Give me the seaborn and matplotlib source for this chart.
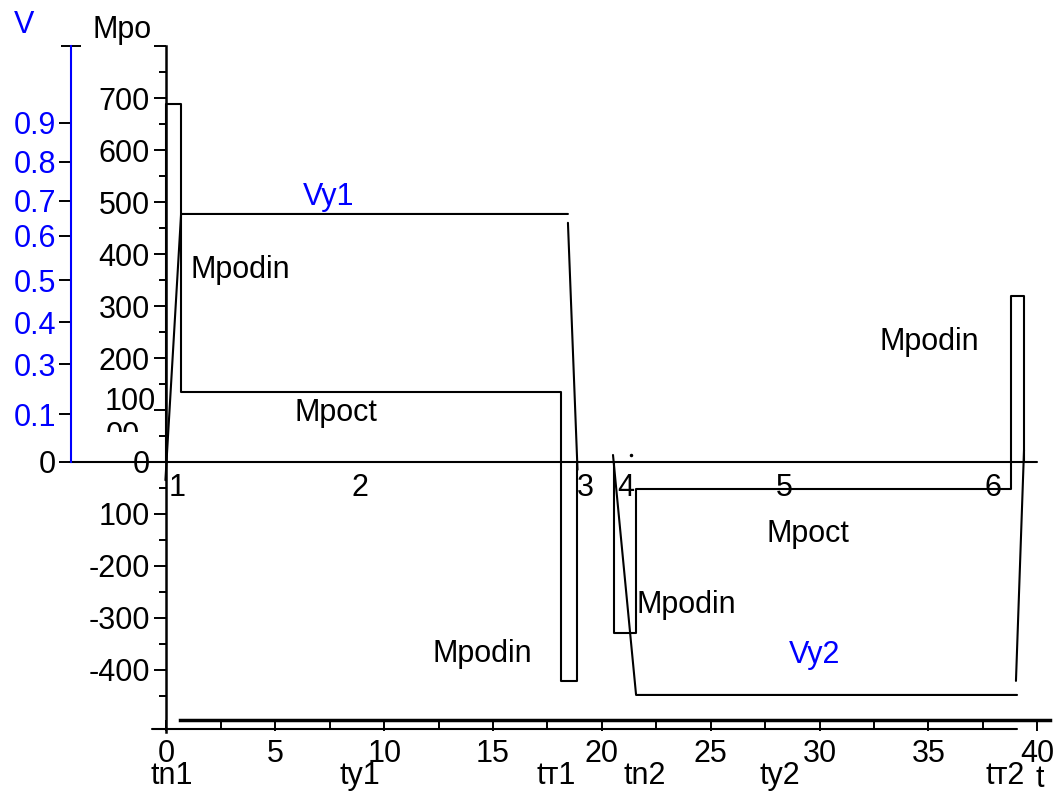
import numpy as np
import pandas as pd
import matplotlib
matplotlib.use('Agg')
import matplotlib.pyplot as plt
import seaborn as sns
from matplotlib.patches import Rectangle

sns.set_theme(style='white')
plt.rcParams['font.family'] = ['Liberation Sans', 'DejaVu Sans']
plt.rcParams['text.color'] = 'black'
plt.rcParams['xtick.color'] = 'black'
plt.rcParams['ytick.color'] = 'black'

# torque diagram, forward run (t, Mpo)
m1_t = [0, 0, 0.65, 0.65, 18.12, 18.12, 18.86, 18.86]
m1_M = [0, 688, 688, 135, 135, -421, -421, 0]
# torque diagram, reverse run
m2_t = [20.56, 20.56, 21.57, 21.57, 38.79, 38.79, 39.39, 39.39]
m2_M = [0, -329, -329, -52, -52, 319, 319, 0]
# speed Vy1 (drawn in Mpo units)
v1_t = [-0.05, 0.67, 18.44]
v1_M = [-35, 477, 477]
v1d_t = [18.44, 18.88]
v1d_M = [460, -15]
# speed Vy2
v2_t = [20.51, 21.57, 39.07]
v2_M = [13.5, -448, -448]
v2u_t = [39.02, 39.39]
v2u_M = [-421, 23]
# bottom base line
base_t = [-0.67, 39.07]
base_M = [-513, -513]

# axis ticks
x_ticks = [0, 5, 10, 15, 20, 25, 30, 35, 40]
m_ticks = [-400, -300, -200, -100, 0, 100, 200, 300, 400, 500, 600, 700, 800]
m_labels = ['-400', '-300', '-200', '100', '0', '', '200', '300', '400', '500', '600', '700', '']
v_pos = [0, 92, 188, 269, 350, 435, 502, 577, 652]
v_labels = ['0', '0.1', '0.3', '0.4', '0.5', '0.6', '0.7', '0.8', '0.9']

t_names = ['tn1', 'ty1', 'tт1', 'tn2', 'ty2', 'tт2']
t_name_pos = [0.25, 8.89, 17.9, 21.98, 28.18, 38.5]
seg_nums = ['1', '2', '3', '4', '5', '6']
seg_num_t = [0.48, 8.89, 19.22, 21.11, 28.36, 37.97]

segs = [(m1_t, m1_M), (m2_t, m2_M), (v1_t, v1_M), (v1d_t, v1d_M),
        (v2_t, v2_M), (v2u_t, v2u_M), (base_t, base_M)]
rows = []
for i, (tt, mm) in enumerate(segs):
    for k in range(len(tt)):
        rows.append({'seg': i, 'order': k, 't': tt[k], 'M': mm[k]})
df = pd.DataFrame(rows)

W, H = 1059, 794
fig = plt.figure(figsize=(W / 100, H / 100), dpi=100)
ax = fig.add_axes([0, 0, 1, 1])
ax.set_xlim(-7.648, 40.997)
ax.set_ylim(-638.5, 888.5)
ax.patch.set_alpha(0)

sns.lineplot(data=df, x='t', y='M', units='seg', estimator=None, sort=False,
             color='black', linewidth=1.5, ax=ax, legend=False)
ax.plot([21.34], [13.5], 'o', color='black', ms=1.5)

FS = 22
# zero line
ax.plot([-4.43, 40], [0, 0], color='black', lw=1.5)

# Mpo axis
for s in ['top', 'right']:
    ax.spines[s].set_visible(False)
ax.spines['left'].set_position(('data', 0))
ax.spines['left'].set_bounds(-520, 800)
ax.spines['left'].set_linewidth(1.8)
ax.spines['left'].set_color('black')
ax.spines['bottom'].set_position(('data', -496))
ax.spines['bottom'].set_bounds(0.6, 40.6)
ax.spines['bottom'].set_linewidth(2.5)
ax.spines['bottom'].set_color('black')
ax.set_yticks(m_ticks)
ax.set_yticklabels(m_labels)
ax.set_yticks(np.arange(-450, 800, 100), minor=True)
ax.set_xticks(x_ticks)
ax.set_xticklabels([str(v) for v in x_ticks])
ax.set_xticks(np.arange(2.5, 40, 5), minor=True)
ax.tick_params(axis='both', which='both', bottom=True, left=True, top=False, right=False)
ax.tick_params(axis='y', which='major', direction='out', length=8.6, width=1.4,
               pad=3.5, labelsize=FS, colors='black')
ax.tick_params(axis='y', which='minor', direction='out', length=4.7, width=1.4)
ax.tick_params(axis='x', which='major', direction='out', length=8, width=1.4,
               pad=5.5, labelsize=FS, colors='black')
ax.tick_params(axis='x', which='minor', direction='out', length=6.5, width=1.4)
ax.set_xlabel('')
ax.set_ylabel('')
ax.text(-0.5, 115, '100', fontsize=FS, ha='right', va='center')
clipped = ax.text(-1.22, 50, '00', fontsize=FS, ha='right', va='center', clip_on=True)
clipped.set_clip_path(Rectangle((-4, 57.7), 4, 100, transform=ax.transData))

# V axis
vax = fig.add_axes([70.5 / W, 0, 0.0001, 1])
vax.set_ylim(ax.get_ylim())
vax.patch.set_alpha(0)
for s in ['top', 'right', 'bottom']:
    vax.spines[s].set_visible(False)
vax.spines['left'].set_color('blue')
vax.spines['left'].set_linewidth(1.5)
vax.spines['left'].set_bounds(0, 800)
vax.set_xticks([])
vax.set_yticks(v_pos)
vax.set_yticklabels(v_labels)
vax.set_yticks([800], minor=True)
vax.tick_params(axis='y', which='both', left=True, right=False)
vax.tick_params(axis='y', which='major', direction='out', length=8.6, width=1.4,
                pad=2, labelsize=FS, colors='black', labelcolor='blue')
vax.tick_params(axis='y', which='minor', direction='inout', length=15, width=1.4)
for lab in vax.get_yticklabels():
    if lab.get_text() == '0':
        lab.set_color('black')

# titles / annotations
ax.text(-7.0, 840, 'V', color='blue', fontsize=FS, ha='left', va='center')
ax.text(-3.42, 831, 'Mpo', fontsize=FS, ha='left', va='center')
ax.text(6.27, 510, 'Vy1', color='blue', fontsize=FS, ha='left', va='center')
ax.text(28.6, -371, 'Vy2', color='blue', fontsize=FS, ha='left', va='center')
ax.text(1.08, 369, 'Mpodin', fontsize=FS, ha='left', va='center')
ax.text(5.90, 94, 'Mpoct', fontsize=FS, ha='left', va='center')
ax.text(32.77, 231, 'Mpodin', fontsize=FS, ha='left', va='center')
ax.text(27.58, -138, 'Mpoct', fontsize=FS, ha='left', va='center')
ax.text(21.61, -275, 'Mpodin', fontsize=FS, ha='left', va='center')
ax.text(12.24, -369, 'Mpodin', fontsize=FS, ha='left', va='center')
for s, tt in zip(seg_nums, seg_num_t):
    ax.text(tt, -50, s, fontsize=FS, ha='center', va='center')
for s, tt in zip(t_names, t_name_pos):
    ax.text(tt, -604, s, fontsize=FS, ha='center', va='center')
ax.text(40.12, -609, 't', fontsize=FS, ha='center', va='center')

fig.savefig('out.png', dpi=100)
